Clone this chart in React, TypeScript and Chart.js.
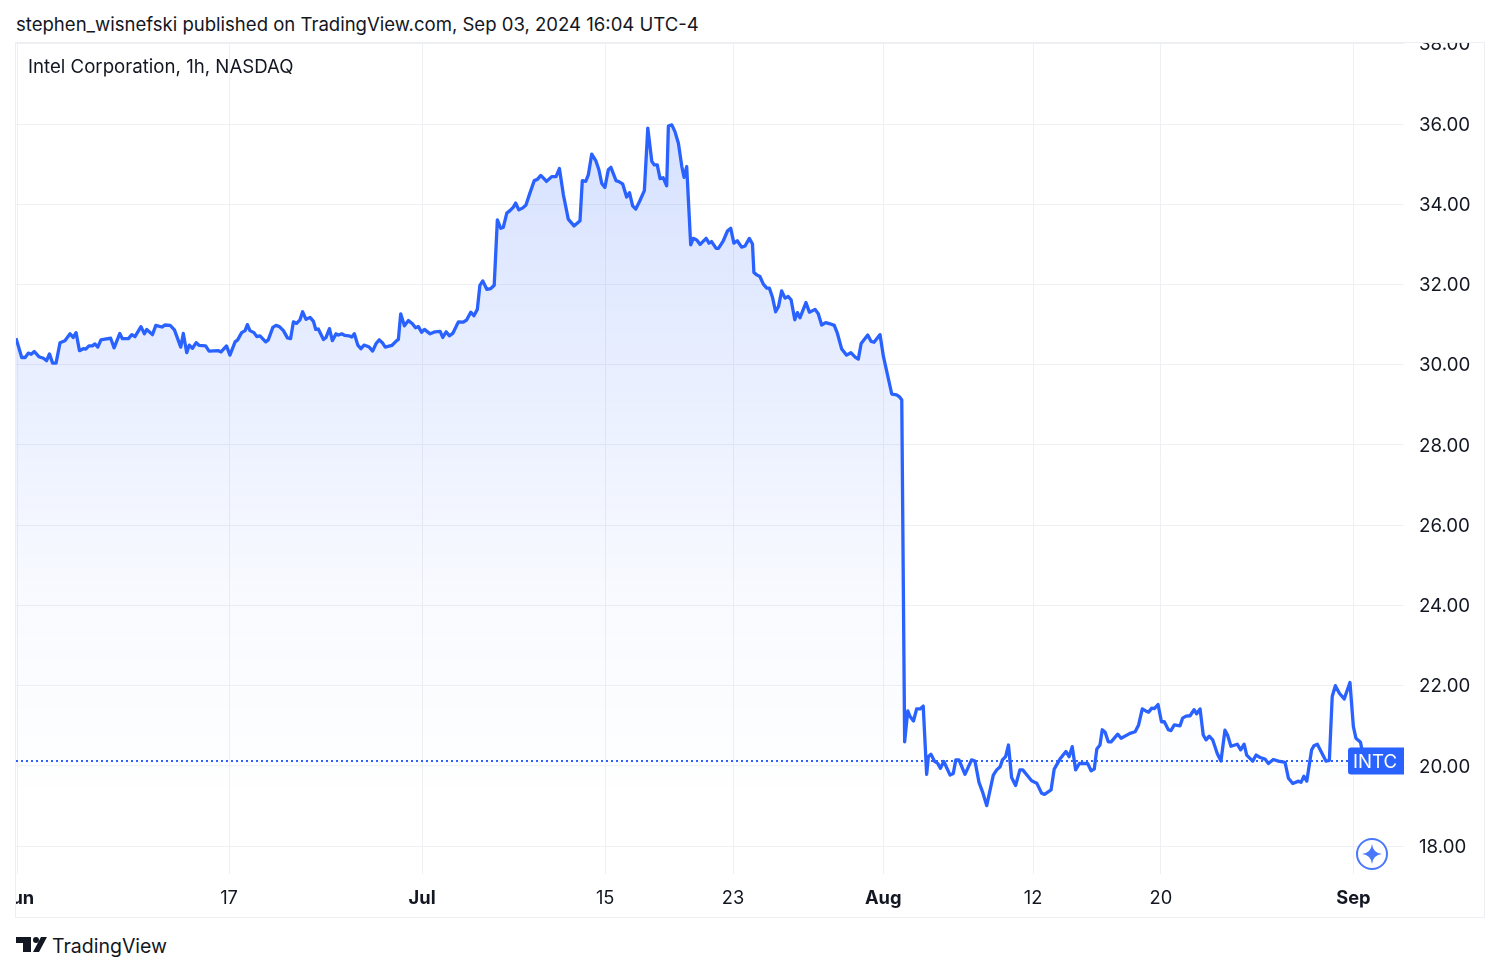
import React, { useEffect, useRef } from "react";
import { Chart, registerables } from "chart.js";

Chart.register(...registerables);

// [bar index, close] pairs, one list per stretch of the chart
const juneBars: [number, number][] = [
  [0, 30.66], [2, 30.18], [3.2, 30.18], [4.3, 30.29], [5.3, 30.26], [6.4, 30.33], [8, 30.2], [9.6, 30.16], [10.7, 30.1], [11.7, 30.27],
  [12.8, 30.04], [14, 30.04], [15.4, 30.55], [17.1, 30.6], [18.9, 30.77], [20, 30.68], [21, 30.8], [22.2, 30.35], [23.5, 30.4], [24.4, 30.39],
  [25.5, 30.47], [26.7, 30.47], [27.6, 30.52], [28.6, 30.44], [29.7, 30.62], [31.1, 30.64], [33.1, 30.66], [34.3, 30.42], [36.3, 30.78], [37.2, 30.65],
  [39.3, 30.65], [40.5, 30.75], [41.6, 30.7], [43.7, 30.95], [44.9, 30.77], [45.7, 30.88], [47.7, 30.75], [48.9, 30.98], [51, 30.94], [52.1, 30.99],
  [53.9, 30.98], [55.4, 30.87], [57.6, 30.44], [58.5, 30.78], [59.7, 30.3], [60.6, 30.49], [61.7, 30.41], [63, 30.55], [64.1, 30.48], [66.3, 30.47],
  [67.5, 30.34], [70.8, 30.35], [71.7, 30.32], [73.6, 30.47], [74.8, 30.24], [76.6, 30.57], [77.5, 30.62], [78.9, 30.8], [80.1, 30.85], [80.9, 31.0], [81.8, 30.85],
];
const lateJuneBars: [number, number][] = [
  [83.2, 30.8], [84.2, 30.7], [85.3, 30.72], [87.3, 30.57], [88.2, 30.62], [89.8, 30.93], [90.9, 30.98], [92.1, 30.95], [93.5, 30.85], [94.9, 30.67],
  [96, 30.65], [97, 31.07], [98.1, 31.03], [99.3, 31.12], [100.2, 31.32], [101.4, 31.13], [102.8, 31.18], [104, 31.08], [104.8, 30.88], [105.7, 30.89],
  [107.5, 30.63], [108.4, 30.68], [109.6, 30.9], [110.6, 30.6], [111.9, 30.77], [112.7, 30.74], [113.9, 30.77], [115, 30.73], [116.4, 30.72], [117.4, 30.69],
  [118.3, 30.77], [119.5, 30.49], [120.6, 30.4], [121.7, 30.49], [123.5, 30.44], [124.7, 30.34], [125.9, 30.53], [127, 30.62], [128.1, 30.55], [129.1, 30.44],
  [131.4, 30.48], [133.1, 30.6], [133.7, 30.63], [134.5, 31.27], [135.8, 30.97], [137.2, 31.1], [138.6, 31.02], [139.7, 30.92], [140.7, 30.95], [141.8, 30.81],
  [142.8, 30.88], [144.8, 30.77], [146.5, 30.82], [148.3, 30.83], [149.2, 30.68], [150.4, 30.82], [151.5, 30.72], [152.7, 30.78], [154.7, 31.07], [156.4, 31.06],
  [157.6, 31.12], [159, 31.31], [160.1, 31.22], [161.3, 31.38], [162.2, 31.98], [163.2, 32.09], [164.6, 31.88], [166, 31.9], [167.2, 31.98], [168.3, 33.61],
  [169.5, 33.4], [170.4, 33.43], [171.6, 33.78], [172.7, 33.84],
];
const julyBars: [number, number][] = [
  [173.9, 33.93], [174.7, 34.03], [175.8, 33.86], [177.2, 33.91], [178.3, 33.98], [179.5, 34.24], [181.2, 34.59], [182.3, 34.62], [183.5, 34.72], [185.5, 34.57],
  [187.3, 34.69], [188.8, 34.69], [190, 34.89], [191.4, 34.23], [193.1, 33.63], [195.1, 33.46], [197.2, 33.59], [198, 34.59], [199.2, 34.57], [200.1, 34.73],
  [201.3, 35.25], [202.7, 35.09], [203.8, 34.86], [204.8, 34.52], [205.9, 34.42], [207.1, 34.86], [208, 34.92], [209.8, 34.59], [210.9, 34.56], [212.1, 34.51],
  [213.5, 34.18], [214.5, 34.29], [215.6, 33.96], [216.7, 33.88], [218, 34.07], [219.7, 34.34], [220.9, 35.9], [222.3, 35.07], [223.2, 34.98], [224.2, 34.98],
  [225.2, 34.64], [226.3, 34.66], [227.5, 34.46], [228.1, 35.95], [229.3, 35.98], [230.4, 35.81], [231.6, 35.52], [232.8, 34.94], [233.6, 34.67], [234.5, 34.94],
  [235.9, 32.99], [236.8, 33.15], [238, 33.11], [239.2, 33.0],
];
const lateJulyBars: [number, number][] = [
  [241.3, 33.15], [242.3, 33.03], [243.2, 33.07], [244.8, 32.9], [245.6, 32.9], [247.3, 33.09], [248.8, 33.34], [249.9, 33.4], [251, 33.03], [252.2, 33.09],
  [253.7, 32.93], [254.9, 32.96], [256.4, 33.15], [257.5, 33.01], [258, 32.3], [259, 32.24], [260.1, 32.2], [261.3, 32.01], [262.5, 31.91], [263.4, 31.91],
  [264.5, 31.68], [265.6, 31.32], [266.6, 31.45], [267.7, 31.84], [268.9, 31.66], [270, 31.7], [271, 31.62], [272.3, 31.12], [273.2, 31.3], [274.1, 31.17],
  [276.2, 31.55], [277.4, 31.31], [279.4, 31.38], [280.5, 31.27], [281.7, 30.99], [283.1, 31.05], [284.6, 31.02], [286.1, 30.98], [287.2, 30.78], [288.7, 30.39],
  [290.4, 30.24], [291.9, 30.3], [293.4, 30.19], [294.5, 30.14], [295.5, 30.53], [297.8, 30.74], [299, 30.58], [300, 30.56], [302.1, 30.75], [303.3, 30.2],
  [306.2, 29.27], [307.9, 29.25], [308.9, 29.2], [309.7, 29.12],
];
const augustBars: [number, number][] = [
  [310.7, 20.6], [311.8, 21.37], [312.6, 21.23], [313.8, 21.12], [314.9, 21.42], [316.1, 21.42], [317.2, 21.49], [318.4, 19.79], [319, 20.23], [319.9, 20.29],
  [321.1, 20.12], [322.3, 20.06], [323.2, 19.94], [324.4, 20.11], [326.6, 19.77], [327.7, 19.81], [328.6, 20.15], [329.7, 20.15], [331.8, 19.79], [334.1, 20.15],
  [335.3, 20.12], [336.7, 19.59], [337.9, 19.36], [339.4, 19.01], [341.7, 19.77], [342.9, 19.9], [344.1, 19.98], [344.9, 20.15], [346, 20.23], [347, 20.52],
  [348.1, 19.71], [349.5, 19.51], [351, 19.9], [352, 19.9], [355.1, 19.63], [356.9, 19.57], [358.6, 19.32], [359.6, 19.29], [361.9, 19.4], [363, 19.92],
  [365, 20.17], [367.1, 20.36], [368.2, 20.23], [369.3, 20.48], [370.5, 19.9], [371.8, 20.06], [374.7, 20.06], [375.9, 19.88], [377, 19.92], [377.9, 20.42],
  [379, 20.52], [379.8, 20.9], [380.8, 20.84], [381.9, 20.6], [382.9, 20.6], [385.2, 20.79], [386.4, 20.69], [389.5, 20.81], [391.3, 20.85],
];
const lateAugustBars: [number, number][] = [
  [392.5, 21.02], [393.8, 21.42], [395, 21.37], [396, 21.34], [397.1, 21.44], [398, 21.43], [399.3, 21.53], [400.5, 21.1], [401.5, 21.1], [402.9, 20.9],
  [403.8, 20.88], [405, 21.02], [407, 21.0], [407.9, 21.19], [409.1, 21.24], [410.5, 21.25], [411.9, 21.4], [412.8, 21.3], [414, 21.42], [415.1, 20.77],
  [416.1, 20.65], [417.2, 20.74], [418.4, 20.65], [420, 20.31], [421.3, 20.12], [422.7, 20.89], [423.6, 20.77], [424.8, 20.49], [427, 20.54], [428.2, 20.4],
  [429.4, 20.54], [430.3, 20.27], [432.4, 20.12], [433.6, 20.27], [435, 20.21], [436.7, 20.17], [437.9, 20.06], [439.6, 20.16], [441.4, 20.12], [443.7, 20.09],
  [444.9, 19.69], [446.4, 19.56], [448.4, 19.62], [449.3, 19.59], [450.3, 19.74], [451.3, 19.62], [453, 20.4], [453.8, 20.5], [455, 20.54], [458, 20.12],
  [459.2, 20.14], [460.2, 21.73], [461.3, 22.0], [462.7, 21.81], [464.4, 21.67], [466.4, 22.08], [467.6, 20.98], [468.5, 20.69], [470.1, 20.59], [470.5, 20.44], [471.3, 20.12],
];

const priceBars = [...juneBars, ...lateJuneBars, ...julyBars, ...lateJulyBars, ...augustBars, ...lateAugustBars];

const yTickValues = [18, 20, 22, 24, 26, 28, 30, 32, 34, 36, 38];
const xTickBars = [0.5, 74.5, 142, 206, 250.7, 303.2, 355.6, 400.3, 467.6];
const xTickLabels = ["Jun", "17", "Jul", "15", "23", "Aug", "12", "20", "Sep"];
const boldLabels = ["Jun", "Jul", "Aug", "Sep"];
const lastPrice = 20.12;
const symbol = "INTC";
const barRange = [0, 485.3];
const priceRange = [17.305, 38.02];

const FONT = "Inter, 'Noto Sans', sans-serif";
const BLUE = "#2962ff";
const GRID = "#eff0f3";
const INK = "#131722";

const priceTag = {
  id: "priceTag",
  afterDatasetsDraw(chart: any) {
    const { ctx, chartArea, scales } = chart;
    const cy = scales.y.getPixelForValue(lastPrice);
    const w = 56;
    const h = 27;
    const x = chartArea.right - w;
    const y = cy - h / 2;
    ctx.save();
    ctx.fillStyle = BLUE;
    ctx.beginPath();
    ctx.roundRect(x, y, w, h, [3, 0, 0, 3]);
    ctx.fill();
    ctx.fillStyle = "#ffffff";
    ctx.font = `18.6px ${FONT}`;
    ctx.textAlign = "center";
    ctx.textBaseline = "middle";
    ctx.fillText(symbol, x + w / 2 - 1, cy + 1);
    ctx.restore();
  },
};

export default function App() {
  const ref = useRef<HTMLCanvasElement>(null);

  useEffect(() => {
    const chart = new Chart(ref.current as HTMLCanvasElement, {
      type: "line",
      data: {
        datasets: [
          {
            data: [
              { x: barRange[0], y: lastPrice },
              { x: barRange[1], y: lastPrice },
            ],
            borderColor: BLUE,
            borderWidth: 2,
            borderDash: [2, 3],
            pointRadius: 0,
            fill: false,
            order: 2,
          },
          {
            data: priceBars.map(([x, y]) => ({ x, y })),
            borderColor: BLUE,
            borderWidth: 3.3,
            borderJoinStyle: "round",
            pointRadius: 0,
            tension: 0,
            fill: "start",
            order: 1,
            backgroundColor: (c: any) => {
              const { chart: ch } = c;
              if (!ch.chartArea) return "rgba(41,98,255,0.1)";
              const top = ch.scales.y.getPixelForValue(36);
              const g = ch.ctx.createLinearGradient(0, top, 0, ch.chartArea.bottom);
              g.addColorStop(0, "rgba(41,98,255,0.19)");
              g.addColorStop(0.63, "rgba(41,98,255,0.033)");
              g.addColorStop(0.9, "rgba(41,98,255,0)");
              return g;
            },
          },
        ],
      },
      options: {
        animation: false,
        responsive: false,
        parsing: false,
        normalized: true,
        layout: { padding: 0 },
        plugins: { legend: { display: false }, tooltip: { enabled: false } },
        scales: {
          x: {
            type: "linear",
            min: barRange[0],
            max: barRange[1],
            afterBuildTicks: (s: any) => {
              s.ticks = xTickBars.map((value) => ({ value }));
            },
            afterFit: (s: any) => {
              s.height = 43;
              s.paddingLeft = 0;
              s.paddingRight = 0;
            },
            grid: { color: GRID, drawTicks: false, lineWidth: 1 },
            border: { display: false },
            ticks: {
              autoSkip: false,
              maxRotation: 0,
              padding: 14,
              color: INK,
              callback: (_v: any, i: number) => xTickLabels[i],
              font: (c: any) => {
                const i = xTickBars.indexOf(c.tick?.value);
                const bold = boldLabels.includes(xTickLabels[i]);
                return { family: FONT, size: 18.3, weight: bold ? "700" : "400" };
              },
            },
          },
          y: {
            type: "linear",
            position: "right",
            min: priceRange[0],
            max: priceRange[1],
            afterBuildTicks: (s: any) => {
              s.ticks = yTickValues.map((value) => ({ value }));
            },
            afterFit: (s: any) => {
              s.width = 80;
              s.paddingTop = 0;
              s.paddingBottom = 0;
            },
            grid: { color: GRID, drawTicks: false, lineWidth: 1 },
            border: { display: false },
            ticks: {
              padding: 15,
              labelOffset: 1,
              color: INK,
              font: { family: FONT, size: 18.7 },
              callback: (v: any) => Number(v).toFixed(2),
            },
          },
        },
      },
      plugins: [priceTag],
    } as any);
    return () => chart.destroy();
  }, []);

  const text = { position: "absolute", color: INK, fontFamily: FONT, whiteSpace: "nowrap" } as any;

  return (
    <div style={{ position: "fixed", left: 0, top: 0, width: 1500, height: 972, background: "#fff", overflow: "hidden" }}>
      <div style={{ ...text, left: 16, top: 12, fontSize: 18.56, lineHeight: "24px" }}>
        stephen_wisnefski published on TradingView.com, Sep 03, 2024 16:04 UTC-4
      </div>
      <div style={{ position: "absolute", left: 15, top: 42, width: 1468, height: 874, border: "1px solid #eceef2" }} />
      <canvas ref={ref} width={1468} height={874} style={{ position: "absolute", left: 16, top: 43, width: 1468, height: 874 }} />
      <div style={{ ...text, left: 28, top: 54, fontSize: 18.65, lineHeight: "24px" }}>Intel Corporation, 1h, NASDAQ</div>
      <svg style={{ position: "absolute", left: 1355, top: 837 }} width="34" height="34" viewBox="0 0 34 34">
        <circle cx="17" cy="17" r="15" fill="#fff" stroke="#4a78fb" strokeWidth="2" />
        <path d="M17 7 Q18 16 27 17 Q18 18 17 27 Q16 18 7 17 Q16 16 17 7 Z" fill="#4a78fb" />
      </svg>
      <svg style={{ position: "absolute", left: 16, top: 936 }} width="32" height="17" viewBox="0 0 32 17">
        <path d="M0 1 H15 V16 H7 V7 H0 Z" fill={INK} />
        <circle cx="20" cy="4" r="3" fill={INK} />
        <path d="M25 1 H31 L23 16 H17 Z" fill={INK} />
      </svg>
      <div style={{ ...text, left: 52, top: 933, fontSize: 19.5, lineHeight: "26px" }}>TradingView</div>
    </div>
  );
}
